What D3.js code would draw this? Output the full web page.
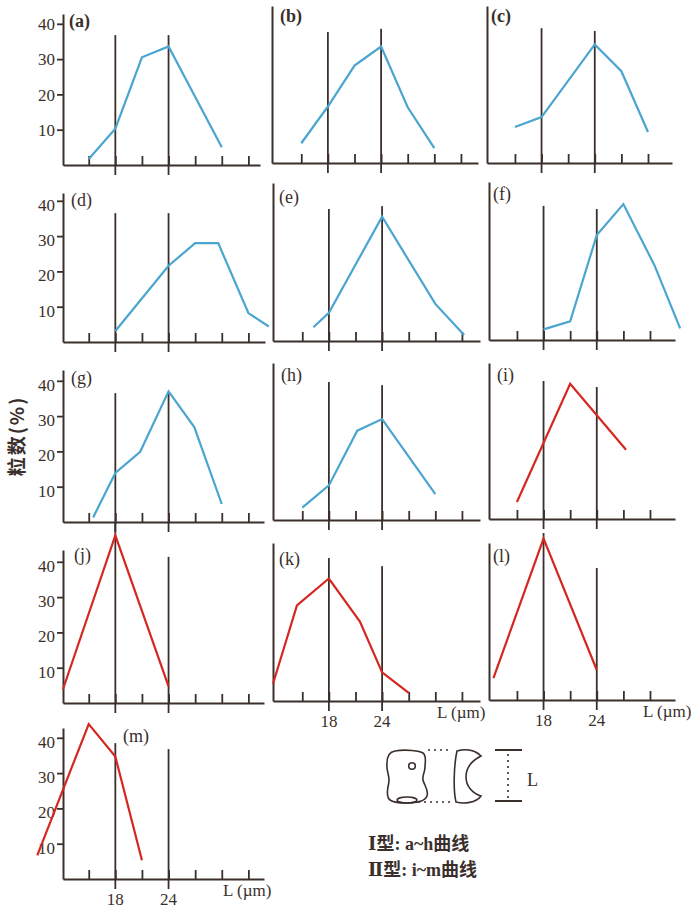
<!DOCTYPE html>
<html><head><meta charset="utf-8">
<script src="https://cdn.jsdelivr.net/npm/d3@7"></script>
<style>body{margin:0;background:#fff}svg{display:block}</style></head>
<body><svg id="c" width="700" height="913"></svg>
<script>
// ---- data: pollen length L (µm) vs grain count (%) ----
const lenA=[15,18,21,24,30],            pctA=[1.7,10.3,30.5,33.6,5.0];
const lenB=[15,18,21,24,27,30],         pctB=[5.6,16.0,27.6,33.0,15.8,4.2];
const lenC=[15,18,24,27,30],            pctC=[10.2,13.0,33.6,26.0,8.8];
const lenD=[18,24,27,29.6,33,35.3],     pctD=[3.1,21.6,28.0,28.0,8.2,4.4];
const lenE=[16.25,18,24,30,33.25],      pctE=[3.9,8.0,35.2,10.5,1.7];
const lenF=[18,21,24,27,30.5,33.4],     pctF=[3.0,5.3,29.7,38.5,21.2,3.3];
const lenG=[15.5,18,20.8,24,26.9,30],   pctG=[1.3,13.9,19.9,37.0,26.9,5.1];
const lenH=[15,18,21.2,24,30],          pctH=[3.5,9.8,25.3,28.6,7.3];
const lenI=[15,21,27.3],                pctI=[4.8,38.3,19.6];
const lenJ=[12.1,18,24],                pctJ=[3.9,47.5,4.7];
const lenK=[11.7,14.4,18,21.5,24,27],   pctK=[4.9,27.1,34.7,22.5,8.1,2.3];
const lenL=[12.35,18,24],               pctL=[6.2,45.7,8.5];
const lenM=[9.2,15,18,21],              pctM=[6.7,43.9,34.7,5.3];

const panelIds=["a","b","c","d","e","f","g","h","i","j","k","l","m"];
const seriesLen=[lenA,lenB,lenC,lenD,lenE,lenF,lenG,lenH,lenI,lenJ,lenK,lenL,lenM];
const seriesPct=[pctA,pctB,pctC,pctD,pctE,pctF,pctG,pctH,pctI,pctJ,pctK,pctL,pctM];
const seriesType=["I","I","I","I","I","I","I","I","II","II","II","II","II"];

const yTickValues=[10,20,30,40];
const xTicksLong=[15,18,21,24,27,30,33];
const xTicksShort=[15,18,21,24,27,30];
const refValues=[18,24];
const xLabelValues=[18,24];
const xTitle="L (µm)";
const yTitle="粒数(%)";
const legendNumerals=["Ⅰ","Ⅱ"];
const legendTexts=["型: a~h曲线","型: i~m曲线"];

// ---- layout (pixels / styling only) ----
const PX_PER_PCT=3.53, PX_PER_UM=8.87;
const layout={
 a:{ox:63, ay:165,top:14, len:197,x0:12.1, col:0,lx:69, ly:27, bold:true, ref:[36.8,36.8]},
 b:{ox:272,ay:163,top:6,  len:206,x0:11.7, col:1,lx:280,ly:22, bold:true, ref:[37.1,38.0]},
 c:{ox:487,ay:163,top:6,  len:185,x0:11.85,col:2,lx:491,ly:22, bold:true, ref:[38.2,37.4]},
 d:{ox:63, ay:342,top:193,len:202,x0:12.1, col:0,lx:71, ly:206,bold:false,ref:[36.5,36.5]},
 e:{ox:273,ay:341,top:183,len:207,x0:11.7, col:1,lx:279,ly:203,bold:false,ref:[37.4,38.2]},
 f:{ox:489,ay:340,top:182,len:186,x0:11.85,col:2,lx:493,ly:200,bold:false,ref:[38.0,37.1]},
 g:{ox:63, ay:522,top:370,len:201,x0:12.1, col:0,lx:71, ly:384,bold:false,ref:[36.5,36.5]},
 h:{ox:273,ay:520,top:363,len:207,x0:11.7, col:1,lx:281,ly:381,bold:false,ref:[39.1,38.2]},
 i:{ox:489,ay:519,top:363,len:186,x0:11.85,col:2,lx:497,ly:381,bold:false,ref:[39.1,37.4]},
 j:{ox:63, ay:703,top:550,len:201,x0:12.1, col:0,lx:74, ly:561,bold:false,ref:[51.0,41.4]},
 k:{ox:273,ay:701,top:543,len:207,x0:11.7, col:1,lx:279,ly:565,bold:false,ref:[40.5,38.2],xlab:true,tx:437},
 l:{ox:489,ay:700,top:543,len:186,x0:11.85,col:2,lx:493,ly:562,bold:false,ref:[47.3,37.4],xlab:true,tx:643},
 m:{ox:63, ay:879,top:728,len:201,x0:12.1, col:0,lx:123,ly:742,bold:false,ref:[38.5,36.8],xlab:true,tx:223}
};
const INK="#3a2f2b", BLUE="#4aa5d0", RED="#d5271f";
const SERIF="'Liberation Serif','Times New Roman',serif";

const svg=d3.select("#c");

panelIds.forEach((id,i)=>{
  const L=layout[id];
  const x=d3.scaleLinear().domain([L.x0, L.x0+L.len/PX_PER_UM]).range([L.ox, L.ox+L.len]);
  const y=d3.scaleLinear().domain([0,(L.ay-L.top)/PX_PER_PCT]).range([L.ay,L.top]);
  const g=svg.append("g");

  const xt=(L.col===2)?xTicksShort:xTicksLong;
  const xa=g.append("g").attr("transform",`translate(0,${L.ay})`)
    .call(d3.axisBottom(x).tickValues(xt).tickSize(-9).tickSizeOuter(0).tickFormat(""));
  xa.select(".domain").attr("stroke",INK).attr("stroke-width",2);
  xa.selectAll(".tick line").attr("stroke",INK).attr("stroke-width",1.8);

  const ya=g.append("g").attr("transform",`translate(${L.ox},0)`)
    .call(d3.axisLeft(y).tickValues(L.col===0?yTickValues:[]).tickSize(6).tickSizeOuter(0).tickPadding(2));
  ya.select(".domain").attr("stroke",INK).attr("stroke-width",2);
  ya.selectAll(".tick line").attr("stroke",INK).attr("stroke-width",1.8);
  ya.selectAll(".tick text").attr("font-family",SERIF).attr("font-size",17)
    .attr("fill",INK).attr("dy", id==="a"?"0.34em":"0.55em");

  refValues.forEach((rv,k)=>{
    g.append("line").attr("x1",x(rv)).attr("x2",x(rv))
      .attr("y1",y(L.ref[k])).attr("y2",L.ay+10)
      .attr("stroke",INK).attr("stroke-width",1.8);
  });

  const pts=seriesLen[i].map((v,k)=>[v,seriesPct[i][k]]);
  g.append("path").datum(pts)
    .attr("d",d3.line().x(d=>x(d[0])).y(d=>y(d[1])))
    .attr("fill","none").attr("stroke",seriesType[i]==="I"?BLUE:RED)
    .attr("stroke-width",2.2).attr("stroke-linejoin","miter");

  g.append("text").attr("x",L.lx).attr("y",L.ly).text(`(${id})`)
    .attr("font-family",SERIF).attr("font-size",18)
    .attr("font-weight",L.bold?"bold":"normal").attr("fill",INK);

  if(L.xlab){
    xLabelValues.forEach(v=>{
      g.append("text").attr("x",x(v)).attr("y",L.ay+26).attr("text-anchor","middle")
        .attr("font-family",SERIF).attr("font-size",17).attr("fill",INK).text(v);
    });
    g.append("text").attr("x",L.tx).attr("y",L.ay+17).attr("font-family",SERIF)
      .attr("font-size",17).attr("fill",INK).text(xTitle);
  }
});

// y title
svg.append("text").attr("transform","translate(24,436) rotate(-90)")
  .attr("text-anchor","middle").attr("font-family","'Noto Sans CJK SC',sans-serif")
  .attr("font-weight","bold").attr("font-size",19).attr("letter-spacing",2)
  .attr("fill",INK).text(yTitle);

// schematic pollen grain (illustration)
const sch=svg.append("g").attr("fill","none").attr("stroke",INK).attr("stroke-width",1.6);
const g1=sch.append("g").attr("transform","translate(386,750)");
g1.append("path").attr("d","M9,1 C20,-1 34,1 37,3 C41,6 39,12 39,17 C39,22 36,26 37,30 C38,35 43,40 41,46 C39,52 30,53 20,53 C10,53 3,52 2,47 C0,40 3,36 3,30 C3,24 0,20 1,13 C1,6 3,2 9,1 Z");
g1.append("circle").attr("cx",26).attr("cy",16).attr("r",3.3);
g1.append("ellipse").attr("cx",21).attr("cy",50).attr("rx",10).attr("ry",3);
const g2=sch.append("g").attr("transform","translate(452,750)");
g2.append("path").attr("d","M5,1 C12,-1 22,-1 29,6 C19,11 14,19 14,27 C14,36 20,43 29,46 C24,53 12,54 4,52 C1,40 2,14 5,1 Z");
sch.append("line").attr("x1",428).attr("x2",452).attr("y1",750).attr("y2",750).attr("stroke-dasharray","2,4");
sch.append("line").attr("x1",418).attr("x2",452).attr("y1",802).attr("y2",802).attr("stroke-dasharray","2,4");
sch.append("line").attr("x1",495).attr("x2",522).attr("y1",750).attr("y2",750).attr("stroke-width",2);
sch.append("line").attr("x1",495).attr("x2",522).attr("y1",801).attr("y2",801).attr("stroke-width",2);
sch.append("line").attr("x1",508).attr("x2",508).attr("y1",754).attr("y2",798).attr("stroke-dasharray","2,4");
svg.append("text").attr("x",527).attr("y",786).attr("font-family",SERIF).attr("font-size",18)
  .attr("fill",INK).text("L");

// legend
legendTexts.forEach((t,k)=>{
  const tx=svg.append("text").attr("x",368).attr("y",850+k*26)
    .attr("font-weight","bold").attr("font-size",18).attr("fill",INK);
  tx.append("tspan").attr("font-family","'DejaVu Serif','Liberation Serif',serif").text(legendNumerals[k]);
  tx.append("tspan").attr("font-family","'Liberation Serif','Noto Sans CJK SC',serif").text(t);
});
</script></body></html>
